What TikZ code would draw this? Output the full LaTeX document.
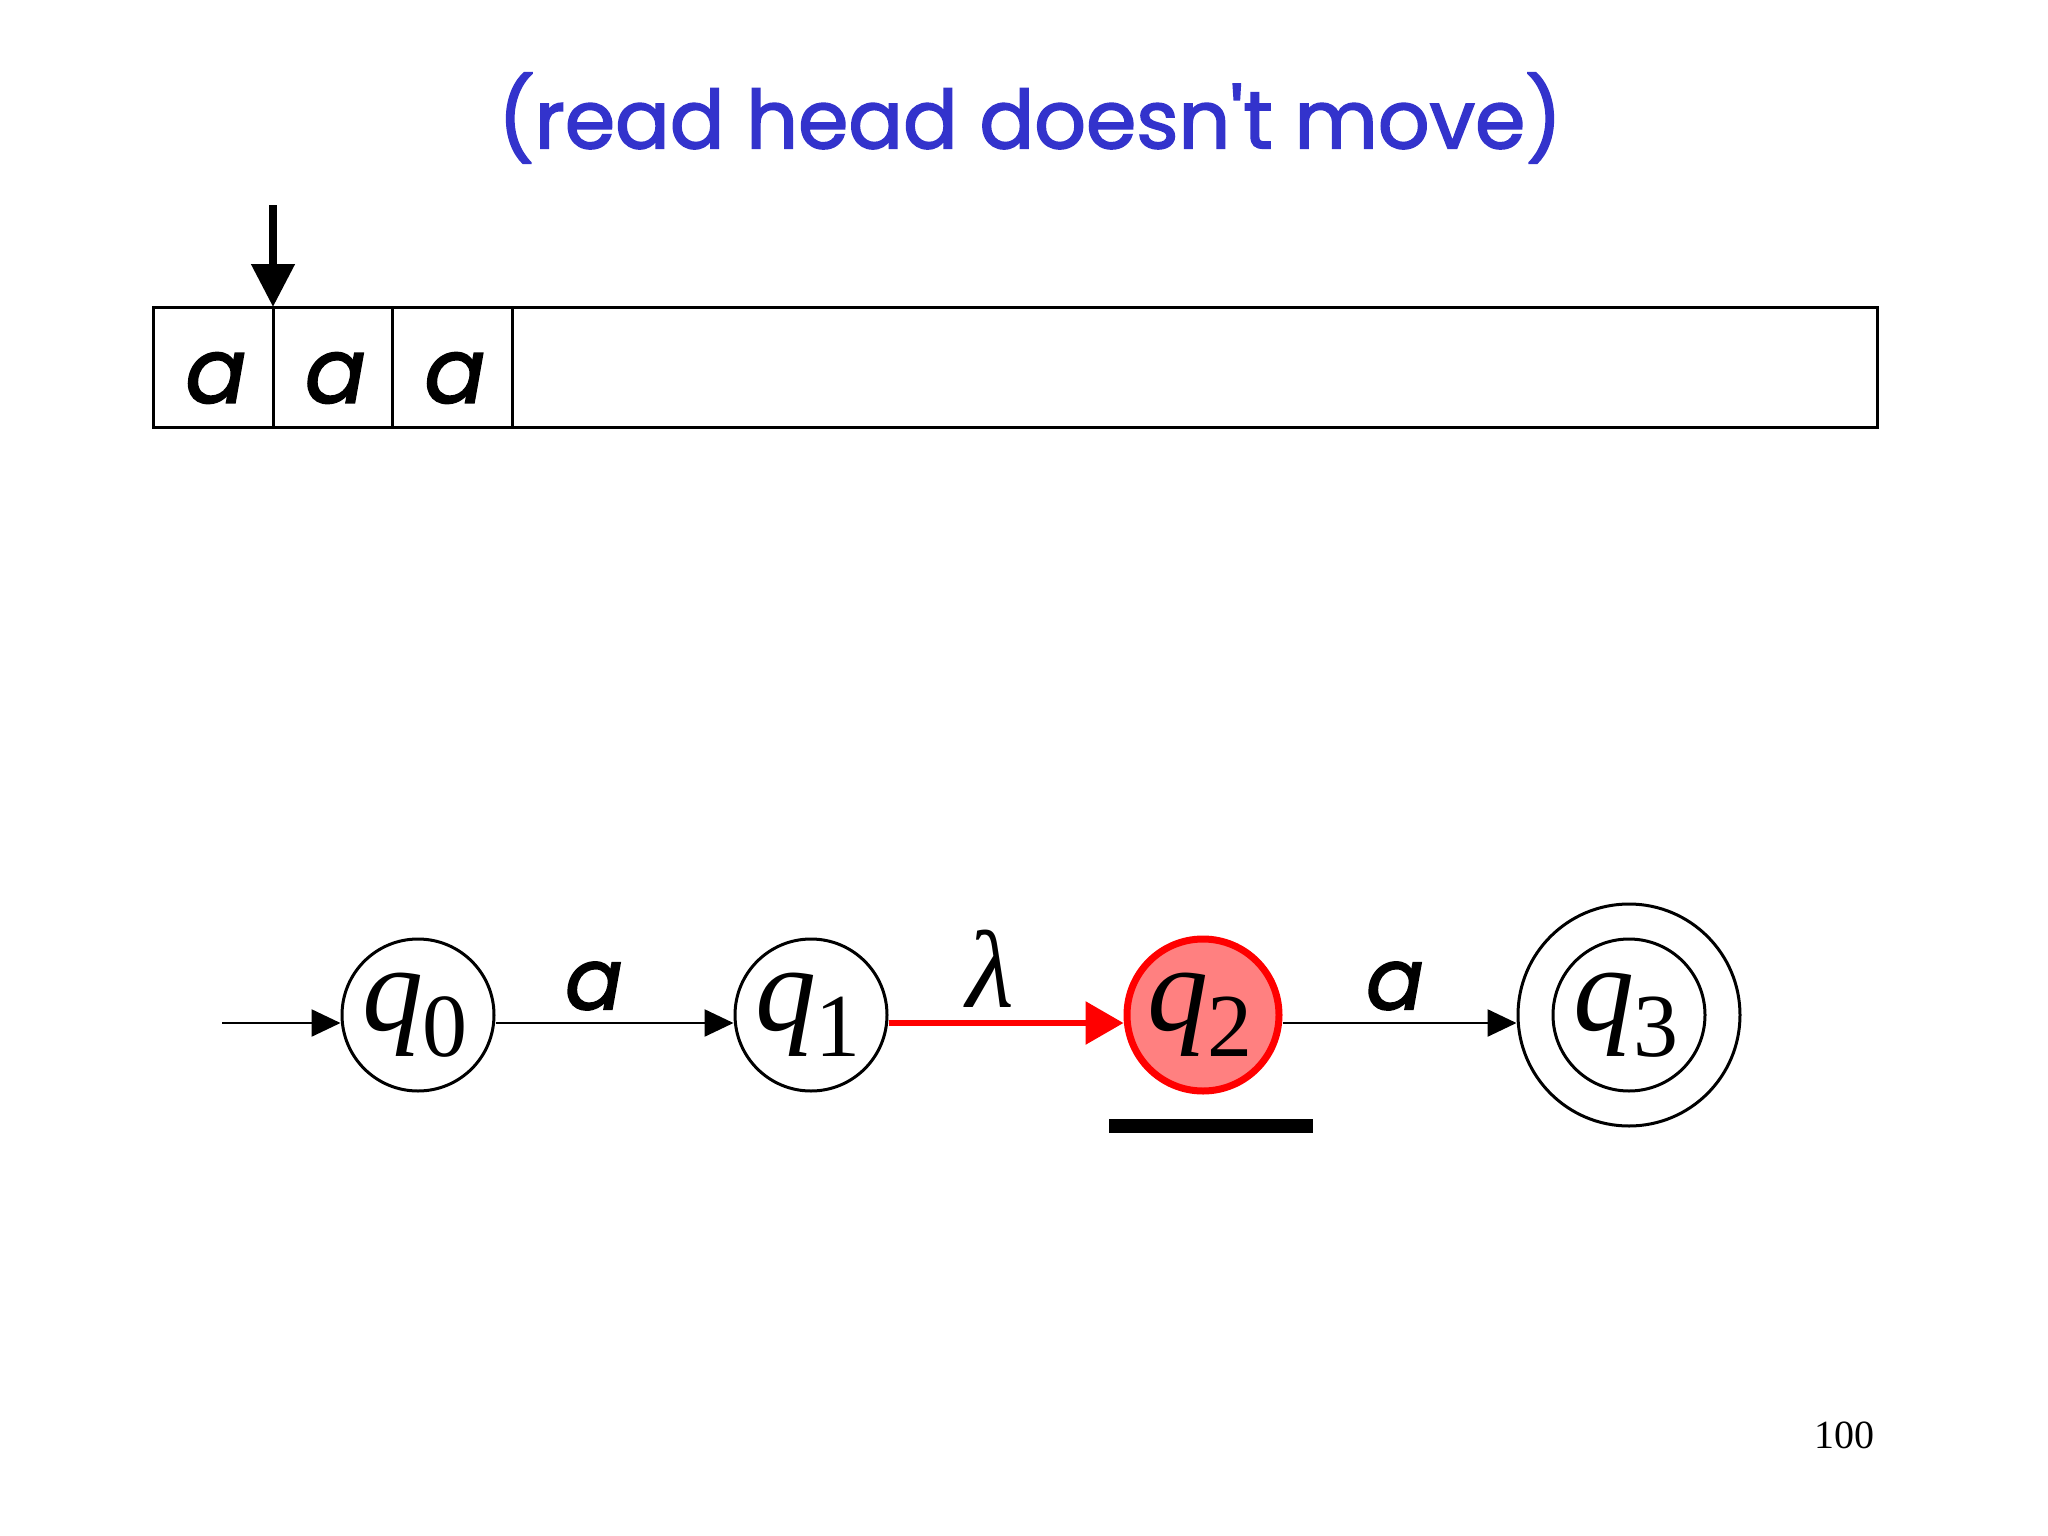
\documentclass[tikz,border=0pt]{standalone}
\usepackage{fontspec}
\setmainfont{Liberation Serif}
\newfontfamily\comic[FakeBold=2]{Poppins}
\usetikzlibrary{arrows.meta}
\definecolor{titleblue}{RGB}{51,51,204}
\definecolor{statered}{RGB}{255,128,128}
\newcommand\qlab[1]{\hspace*{-6pt}{\fontsize{122}{122}\selectfont\itshape q}\kern-1pt\raisebox{-26pt}{\fontsize{90}{90}\selectfont #1}}
\begin{document}
\begin{tikzpicture}[x=1pt,y=-1pt,
  cell/.style={draw, line width=3pt, minimum width=119.5pt, minimum height=120pt, inner sep=0pt},
  celltext/.style={font=\comic\itshape\fontsize{90}{90}\selectfont},
  state/.style={circle, draw, line width=3pt, minimum size=152pt, inner sep=0pt},
  edge/.style={line width=2.5pt, -{Triangle[length=29pt,width=27pt]}},
  redge/.style={line width=6pt, red, -{Triangle[length=38pt,width=42pt]}},
  elabel/.style={font=\comic\itshape\fontsize{85}{85}\selectfont},
]
\useasboundingbox[fill=white] (0,0) rectangle (2048,1536);
% title
\node[font=\comic\fontsize{81}{81}\selectfont, text=titleblue] (title) at (1030,118) {(read head doesn't move)};
% tape
\node[cell] (c1) at (213.5,367) {};
\node[cell] (c2) at (333,367) {};
\node[cell] (c3) at (452.5,367) {};
\node[draw, line width=3pt, minimum width=1365pt, minimum height=120pt, inner sep=0pt] (rest) at (1194.5,367) {};
\node[celltext] (t1) at (216,378) {a};
\node[celltext] (t2) at (335.5,378) {a};
\node[celltext] (t3) at (455,378) {a};
\coordinate (hd) at (273,205);
\coordinate (hdend) at (273,307);
\draw[line width=8pt, -{Triangle[length=43pt,width=42pt]}] (hd) -- (hdend);
% states
\node[state] (q0) at (418,1015) {\qlab{0}};
\node[state] (q1) at (811,1015) {\qlab{1}};
\node[state, fill=statered, draw=red, line width=7pt] (q2) at (1203,1015) {\qlab{2}};
\node[state] (q3) at (1629,1015) {\qlab{3}};
\node[circle, draw, line width=3pt, minimum size=222pt, inner sep=0pt] (q3o) at (1629,1015) {};
% edges
\coordinate (start) at (222,1023);
\draw[edge] (start) -- (q0.west |- start);
\draw[edge] ([yshift=-8pt]q0.east) -- ([yshift=-8pt]q1.west);
\draw[redge] ([yshift=-8pt]q1.east) -- ([yshift=-8pt]q2.west);
\draw[edge] ([yshift=-8pt]q2.east) -- ([yshift=-8pt]q3o.west);
\node[elabel] (la) at (594,986) {a};
\node[font=\fontsize{110}{110}\selectfont\itshape] (ll) at (990,969) {λ};
\node[elabel] (lc) at (1395,986) {a};
% underline
\fill (1109,1119) rectangle (1313,1133);
% page number
\node[font=\fontsize{40}{40}\selectfont] (pg) at (1844,1435) {100};
\end{tikzpicture}
\end{document}
